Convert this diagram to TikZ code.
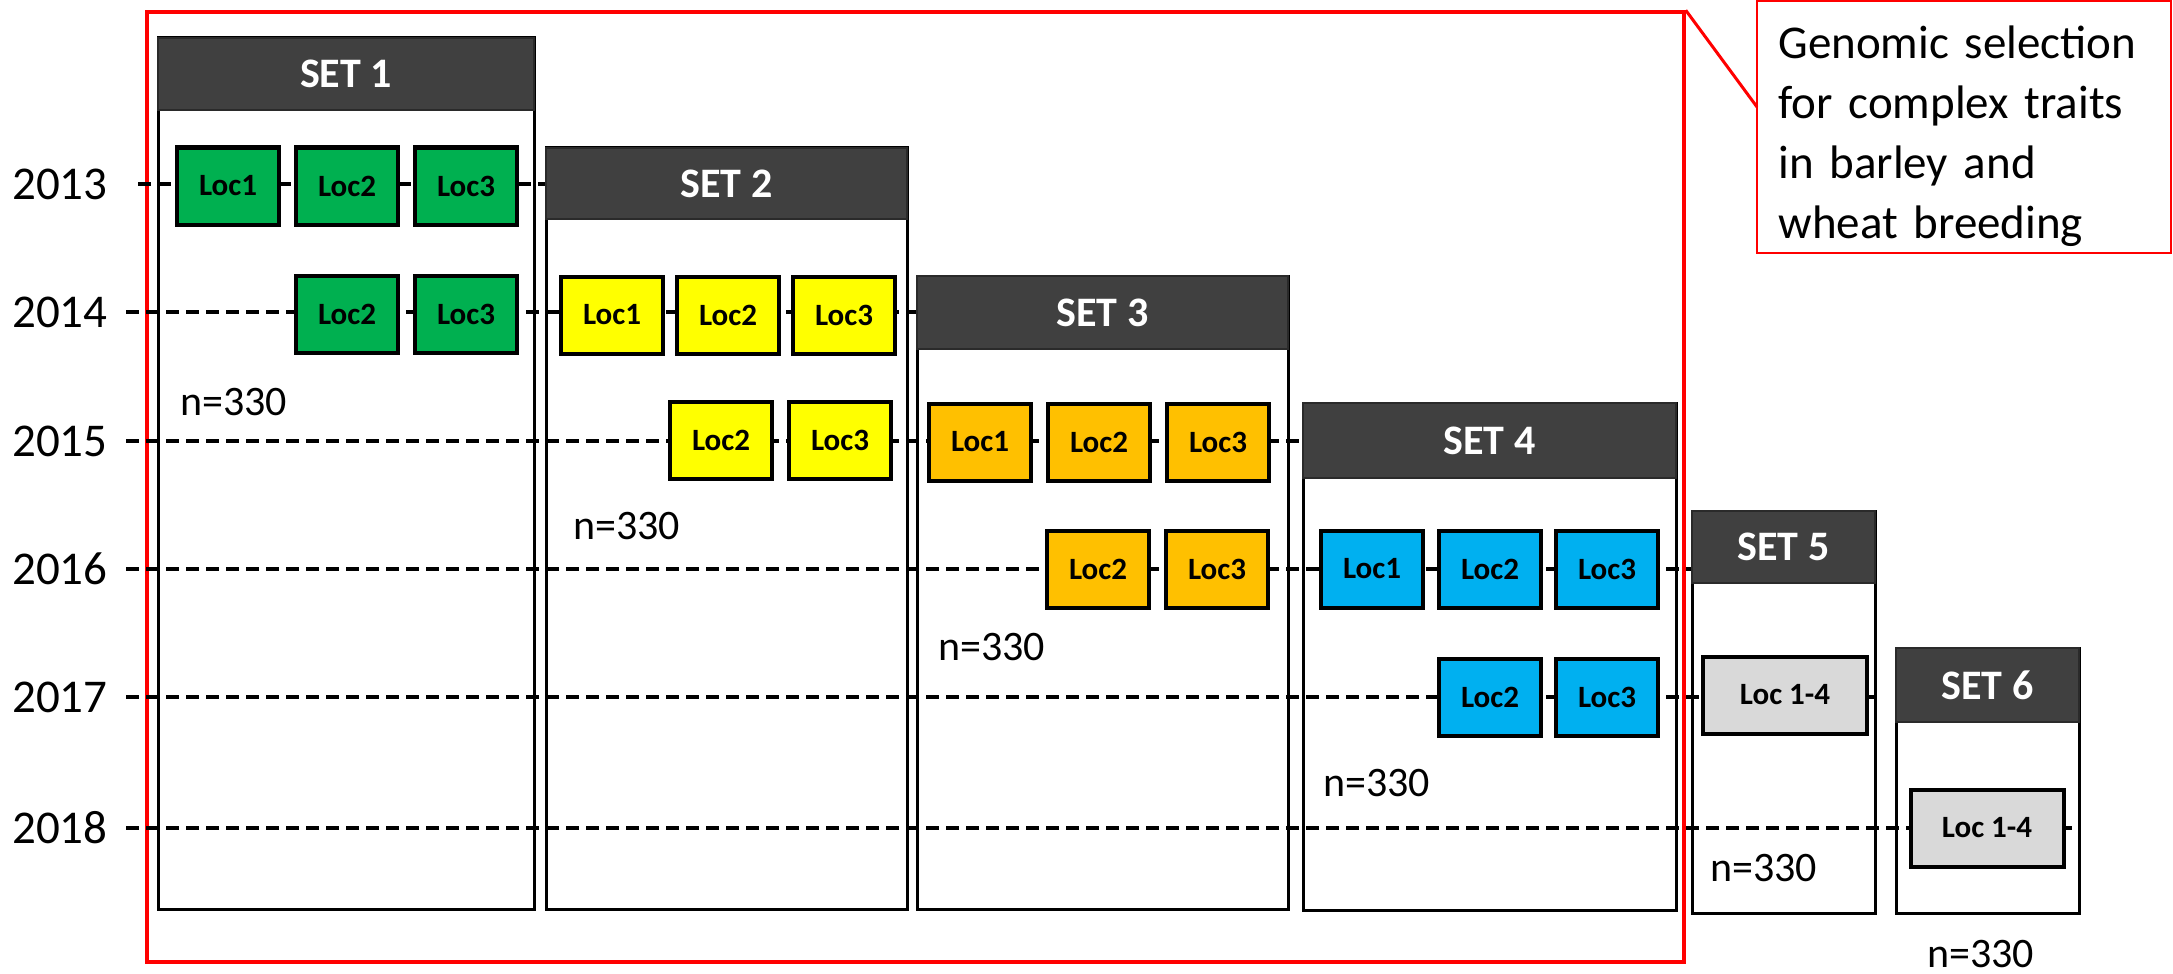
\documentclass[tikz,border=0pt]{standalone}
\usepackage{fontspec}
\setmainfont{Carlito}
\usetikzlibrary{fit}
\definecolor{hdrgray}{HTML}{404040}
\definecolor{hdrline}{HTML}{2A2A2A}
\definecolor{locgreen}{HTML}{00B050}
\definecolor{locyellow}{HTML}{FFFF00}
\definecolor{locorange}{HTML}{FFC000}
\definecolor{locblue}{HTML}{00B0F0}
\definecolor{locgrey}{HTML}{D9D9D9}
\begin{document}
\begin{tikzpicture}[x=0.5pt,y=-0.5pt,
  setbody/.style={draw=black, line width=1.5pt, fill=white, inner sep=0pt},
  hdr/.style={draw=hdrline, line width=1pt, fill=hdrgray, inner sep=0pt},
  hdrtxt/.style={text=white, font=\fontsize{21}{25}\selectfont\bfseries, inner sep=0pt},
  locbox/.style={draw=black, line width=2pt, minimum width=51pt, minimum height=38.5pt, inner sep=0pt, font=\fontsize{15.5}{18}\selectfont\bfseries},
  widebox/.style={locbox, fill=locgrey},
  yearlbl/.style={font=\fontsize{23.5}{28}\selectfont, inner sep=0pt, anchor=east},
  nlbl/.style={font=\fontsize{21}{25}\selectfont, inner sep=0pt, anchor=west},
  dashrow/.style={draw=black, line width=1.75pt, dash pattern=on 6.5pt off 3.5pt},
  redframe/.style={draw=red, line width=1.75pt, inner sep=0pt},
]
\useasboundingbox (0,0) rectangle (2173,974);

% set bodies
\node[setbody, fit={(158,38) (534,909)}] (s1) {};
\node[setbody, fit={(546,148) (907,909)}] (s2) {};
\node[setbody, fit={(917,276) (1288,909)}] (s3) {};
\node[setbody, fit={(1303,403) (1676,910)}] (s4) {};
\node[setbody, fit={(1692,511) (1875,913)}] (s5) {};
\node[setbody, fit={(1896,648) (2079,913)}] (s6) {};

% red frame
\node[redframe, fit={(147,12) (1684,962)}] (frame) {};

% year labels
\node[yearlbl] (y2013) at (108,184) {2013};
\node[yearlbl] (y2014) at (108,312) {2014};
\node[yearlbl] (y2015) at (108,441) {2015};
\node[yearlbl] (y2016) at (108,569) {2016};
\node[yearlbl] (y2017) at (108,697) {2017};
\node[yearlbl] (y2018) at (108,828) {2018};

\coordinate (st2013) at (138,184);
\coordinate (st2014) at (126,312);
\coordinate (st2015) at (126,441);
\coordinate (st2016) at (126,569);
\coordinate (st2017) at (126,697);
\coordinate (st2018) at (126,828);
\coordinate (e2018) at (2072,828);

% headers
\node[hdr, fit={(158,38) (534,110)}] (h1) {};
\node[hdr, fit={(546,148) (907,219)}] (h2) {};
\node[hdr, fit={(917,276) (1288,349)}] (h3) {};
\node[hdr, fit={(1303,403) (1676,478)}] (h4) {};
\node[hdr, fit={(1692,511) (1875,583)}] (h5) {};
\node[hdr, fit={(1896,648) (2079,722)}] (h6) {};

% dashed year rows
\draw[dashrow] (st2013) -- (h2.west |- st2013);
\draw[dashrow] (st2014) -- (h3.west |- st2014);
\draw[dashrow] (st2015) -- (h4.west |- st2015);
\draw[dashrow] (st2016) -- (h5.west |- st2016);
\draw[dashrow] (st2017) -- (s5.east |- st2017);
\draw[dashrow] (st2018) -- (e2018);

% header texts
\node[hdrtxt] (t1) at (h1.center) {SET 1};
\node[hdrtxt] (t2) at (h2.center) {SET 2};
\node[hdrtxt] (t3) at (h3.center) {SET 3};
\node[hdrtxt] (t4) at (h4.center) {SET 4};
\node[hdrtxt] (t5) at (h5.center) {SET 5};
\node[hdrtxt] (t6) at (h6.center) {SET 6};

% set 1
\node[locbox, fill=locgreen] (a1) at (228,186) {Loc1};
\node[locbox, fill=locgreen] (a2) at (347,186) {Loc2};
\node[locbox, fill=locgreen] (a3) at (466,186) {Loc3};
\node[locbox, fill=locgreen] (b2) at (347,314) {Loc2};
\node[locbox, fill=locgreen] (b3) at (466,314) {Loc3};
% set 2
\node[locbox, fill=locyellow] (c1) at (612,315) {Loc1};
\node[locbox, fill=locyellow] (c2) at (728,315) {Loc2};
\node[locbox, fill=locyellow] (c3) at (844,315) {Loc3};
\node[locbox, fill=locyellow] (d2) at (721,440) {Loc2};
\node[locbox, fill=locyellow] (d3) at (840,440) {Loc3};
% set 3
\node[locbox, fill=locorange] (e1) at (980,442) {Loc1};
\node[locbox, fill=locorange] (e2) at (1099,442) {Loc2};
\node[locbox, fill=locorange] (e3) at (1218,442) {Loc3};
\node[locbox, fill=locorange] (f2) at (1098,569) {Loc2};
\node[locbox, fill=locorange] (f3) at (1217,569) {Loc3};
% set 4
\node[locbox, fill=locblue] (g1) at (1372,569) {Loc1};
\node[locbox, fill=locblue] (g2) at (1490,569) {Loc2};
\node[locbox, fill=locblue] (g3) at (1607,569) {Loc3};
\node[locbox, fill=locblue] (k2) at (1490,697) {Loc2};
\node[locbox, fill=locblue] (k3) at (1607,697) {Loc3};
% set 5 and 6
\node[widebox, minimum width=82pt] (m5) at (1785,695) {Loc 1-4};
\node[widebox, minimum width=76.5pt] (m6) at (1987,828) {Loc 1-4};

% n labels
\node[nlbl] (n1) at (180,402) {n=330};
\node[nlbl] (n2) at (573,526) {n=330};
\node[nlbl] (n3) at (938,647) {n=330};
\node[nlbl] (n4) at (1323,783) {n=330};
\node[nlbl] (n5) at (1710,868) {n=330};
\node[nlbl] (n6) at (1927,954) {n=330};

% callout
\node[draw=red, line width=1pt, inner sep=0pt, fit={(1757,1) (2171,253)}] (co) {};
\node[anchor=north west, text width=190pt, align=left, inner sep=0pt,
      font=\fontsize{23.5}{30}\selectfont] (cotxt) at (1778,25)
      {Genomic selection\\for complex traits\\in barley and\\wheat breeding};
\coordinate (ptr) at (1757,107);
\draw[red, line width=1.5pt] (frame.north east) -- (ptr);
\end{tikzpicture}
\end{document}
